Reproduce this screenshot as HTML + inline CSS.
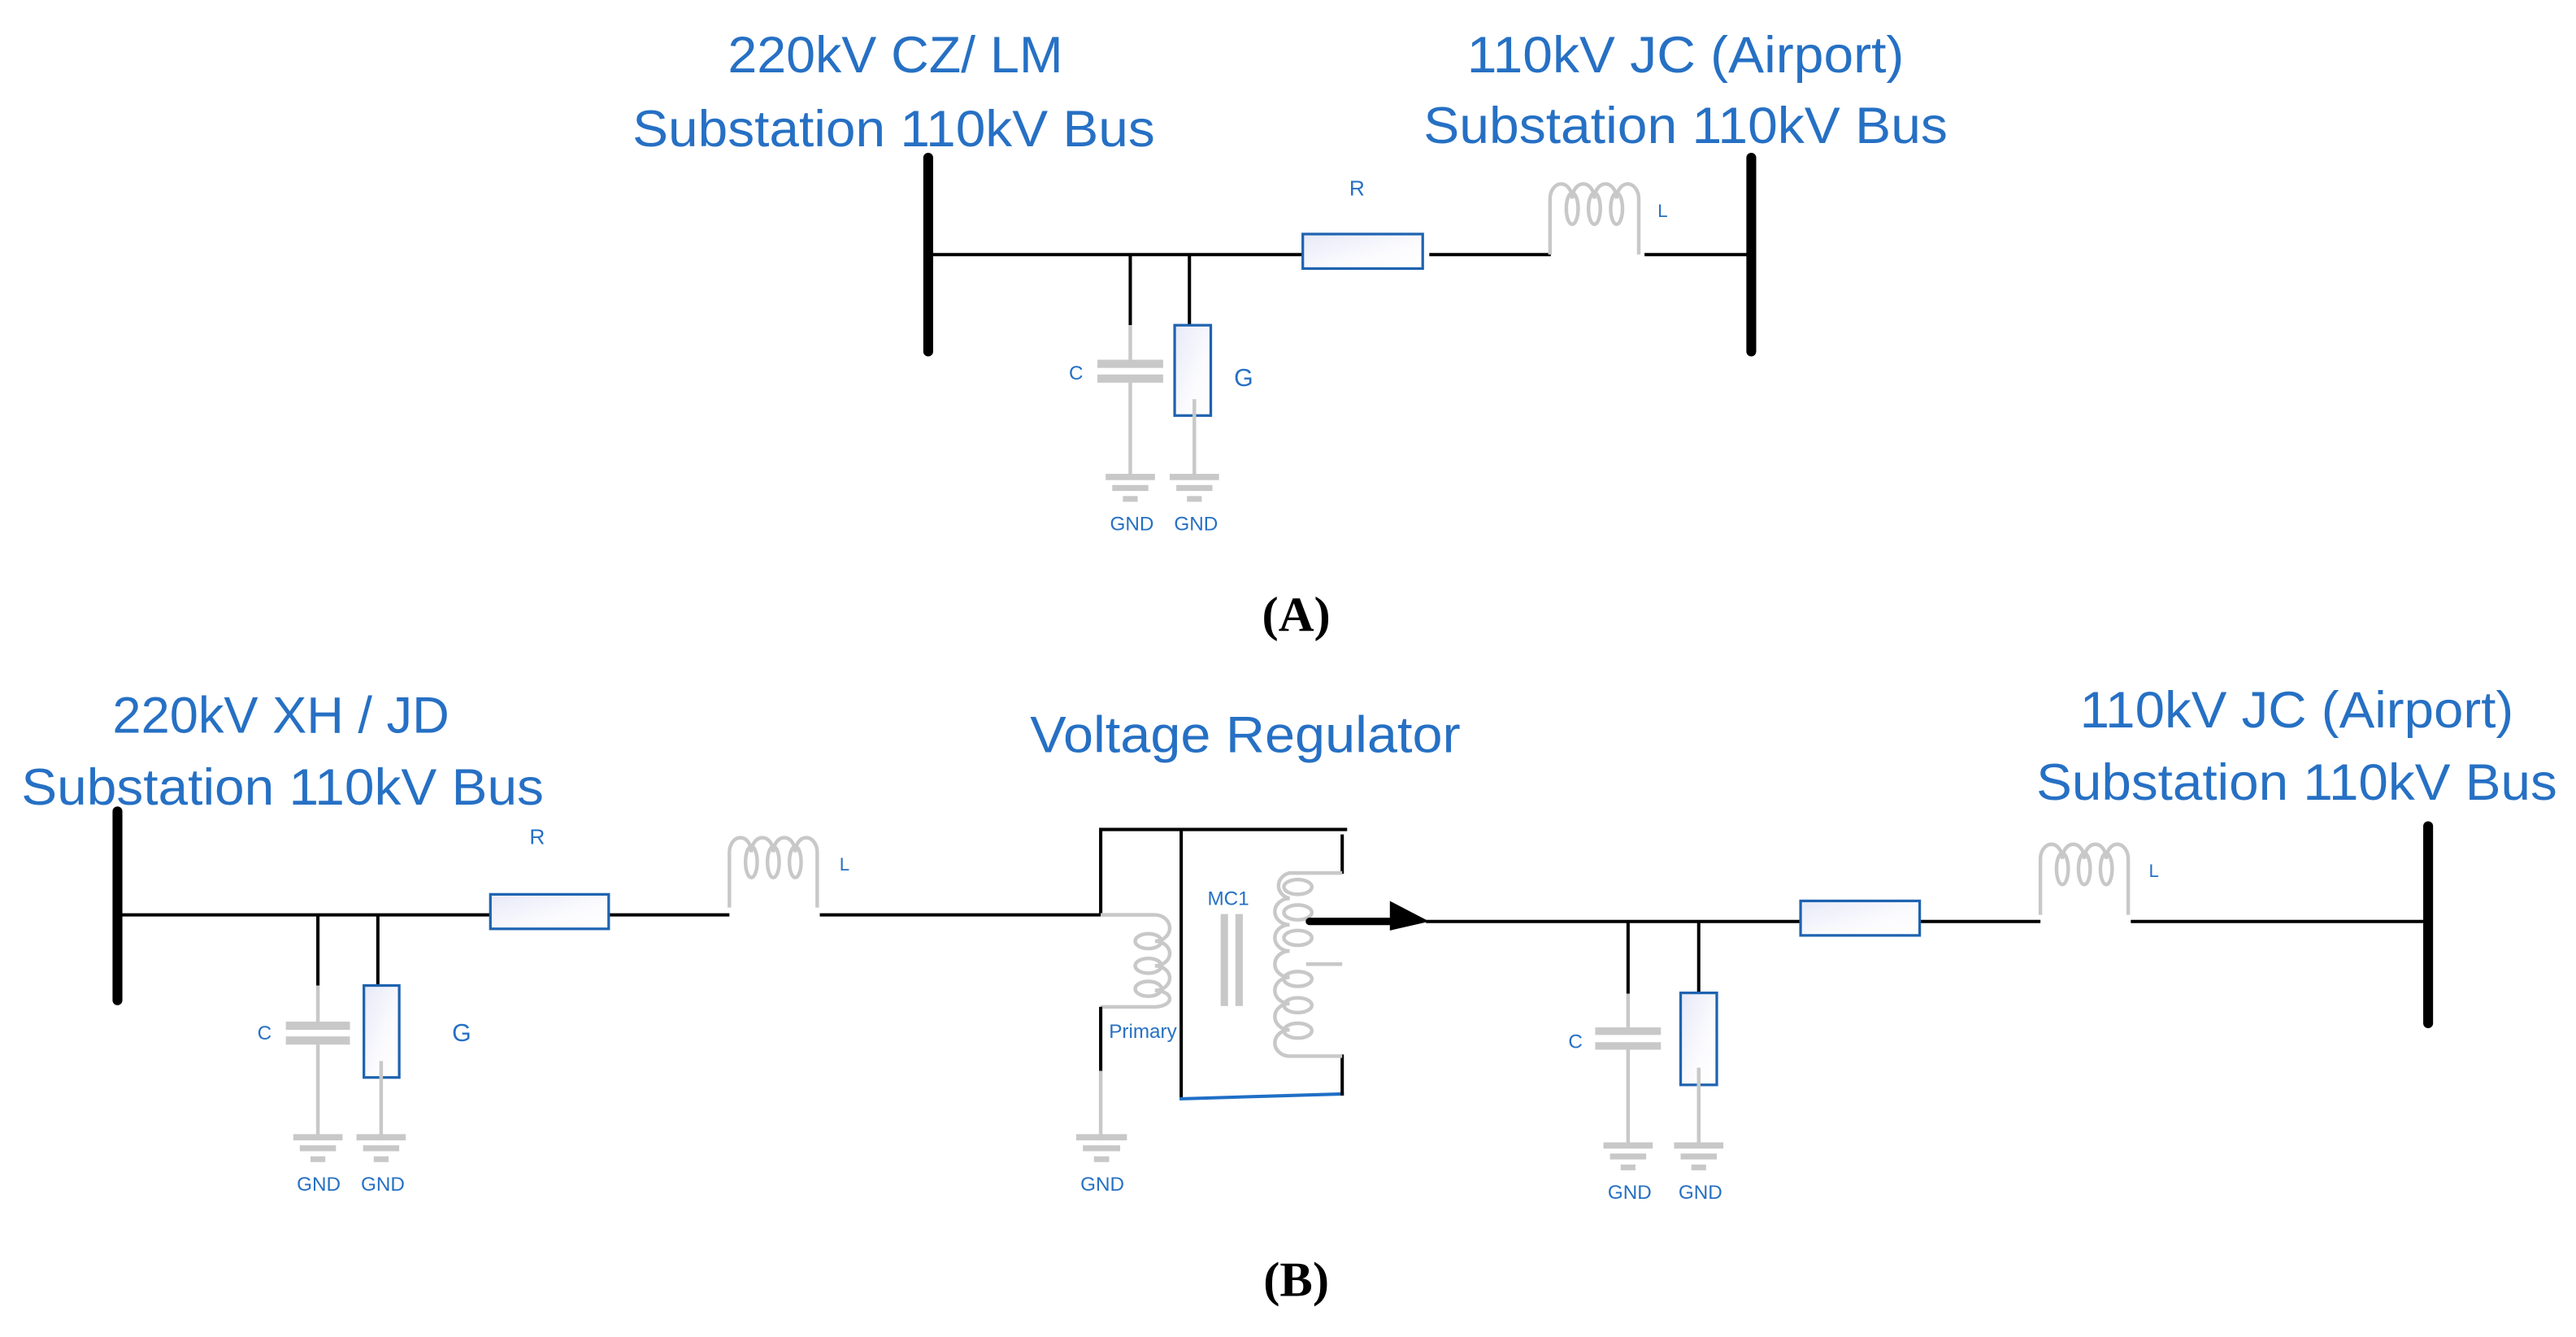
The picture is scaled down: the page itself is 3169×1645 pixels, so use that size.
<!DOCTYPE html>
<html><head><meta charset="utf-8"><style>
html,body{margin:0;padding:0;background:#fff;}
svg{display:block;}
.t{font-family:"Liberation Sans",sans-serif;fill:#2670c4;}
.w{stroke:#000;stroke-width:2;fill:none;}
.g{stroke:#c8c8c8;stroke-width:2.2;fill:none;}
.res{stroke:#1e63b0;stroke-width:1.6;fill:url(#rg);}
.bus{stroke:#000;stroke-width:6;stroke-linecap:round;}
.gp{fill:#c8c8c8;}
</style></head><body>
<svg width="3169" height="1645" viewBox="0 0 1568 814" preserveAspectRatio="none" xmlns="http://www.w3.org/2000/svg">
<defs>
<linearGradient id="rg" x1="0" y1="0" x2="1" y2="1"><stop offset="0" stop-color="#e6e9f7"/><stop offset="0.6" stop-color="#fbfbfe"/><stop offset="1" stop-color="#ffffff"/></linearGradient>
<g id="ind">
<path class="g" d="M1.5,44 V10 A6.75,9 0 0 1 15,10 A6.75,9 0 0 1 28.5,10 A6.75,9 0 0 1 42,10 A6.75,9 0 0 1 55.5,10 V44"/>
<ellipse class="g" cx="15" cy="16" rx="3.6" ry="9.5"/>
<ellipse class="g" cx="28.5" cy="16" rx="3.6" ry="9.5"/>
<ellipse class="g" cx="42" cy="16" rx="3.6" ry="9.5"/>
</g>
<g id="gnd">
<rect class="gp" x="-15" y="0" width="30" height="3.8"/>
<rect class="gp" x="-11" y="6.8" width="22" height="3.6"/>
<rect class="gp" x="-4.5" y="13.5" width="9" height="3.5"/>
</g>
</defs>

<!-- ===== PART A ===== -->
<text class="t" x="545" y="44" font-size="31" text-anchor="middle" textLength="204" lengthAdjust="spacingAndGlyphs">220kV CZ/ LM</text>
<text class="t" x="544" y="89" font-size="31" text-anchor="middle" textLength="318" lengthAdjust="spacingAndGlyphs">Substation 110kV Bus</text>
<text class="t" x="1026" y="44" font-size="31" text-anchor="middle" textLength="266" lengthAdjust="spacingAndGlyphs">110kV JC (Airport)</text>
<text class="t" x="1026" y="87" font-size="31" text-anchor="middle" textLength="319" lengthAdjust="spacingAndGlyphs">Substation 110kV Bus</text>

<line class="bus" x1="565" y1="96" x2="565" y2="214"/>
<line class="bus" x1="1066" y1="96" x2="1066" y2="214"/>
<line class="w" x1="565" y1="155" x2="796" y2="155"/>
<line class="w" x1="870" y1="155" x2="944" y2="155"/>
<line class="w" x1="1001" y1="155" x2="1066" y2="155"/>
<rect class="res" x="793" y="142.5" width="73" height="21"/>
<use href="#ind" x="942" y="111"/>
<text class="t" x="826" y="119" font-size="13" text-anchor="middle">R</text>
<text class="t" x="1009" y="132" font-size="11">L</text>
<!-- C branch -->
<line class="w" x1="688" y1="155" x2="688" y2="198"/>
<line class="g" x1="688" y1="198" x2="688" y2="219"/>
<rect class="gp" x="668" y="219" width="40" height="5"/>
<rect class="gp" x="668" y="228" width="40" height="5"/>
<line class="g" x1="688" y1="233" x2="688" y2="289"/>
<use href="#gnd" x="688" y="288.5"/>
<!-- G branch -->
<line class="w" x1="724" y1="155" x2="724" y2="198"/>
<rect class="res" x="715" y="198" width="22" height="55"/>
<line class="g" x1="727" y1="243" x2="727" y2="289"/>
<use href="#gnd" x="727" y="288.5"/>
<text class="t" x="655" y="231" font-size="12" text-anchor="middle">C</text>
<text class="t" x="757" y="235" font-size="15" text-anchor="middle">G</text>
<text class="t" x="689" y="323" font-size="12" text-anchor="middle">GND</text>
<text class="t" x="728" y="323" font-size="12" text-anchor="middle">GND</text>

<text x="789" y="384" font-family="'Liberation Serif',serif" font-weight="bold" font-size="30" text-anchor="middle" fill="#000">(A)</text>

<!-- ===== PART B ===== -->
<text class="t" x="171" y="446" font-size="31" text-anchor="middle" textLength="205" lengthAdjust="spacingAndGlyphs">220kV XH / JD</text>
<text class="t" x="172" y="490" font-size="31" text-anchor="middle" textLength="318" lengthAdjust="spacingAndGlyphs">Substation 110kV Bus</text>
<text class="t" x="758" y="458" font-size="31" text-anchor="middle" textLength="262" lengthAdjust="spacingAndGlyphs">Voltage Regulator</text>
<text class="t" x="1398" y="443" font-size="31" text-anchor="middle" textLength="264" lengthAdjust="spacingAndGlyphs">110kV JC (Airport)</text>
<text class="t" x="1398" y="487" font-size="31" text-anchor="middle" textLength="317" lengthAdjust="spacingAndGlyphs">Substation 110kV Bus</text>

<!-- left section -->
<line class="bus" x1="71.5" y1="494" x2="71.5" y2="609"/>
<line class="w" x1="71.5" y1="557" x2="299" y2="557"/>
<line class="w" x1="370" y1="557" x2="444" y2="557"/>
<line class="w" x1="499" y1="557" x2="670" y2="557"/>
<rect class="res" x="298.5" y="544.5" width="72" height="21"/>
<use href="#ind" transform="translate(442.5,509) scale(0.99,0.99)"/>
<text class="t" x="327" y="514" font-size="13" text-anchor="middle">R</text>
<text class="t" x="511" y="530" font-size="11">L</text>
<line class="w" x1="193.5" y1="557" x2="193.5" y2="600"/>
<line class="g" x1="193.5" y1="600" x2="193.5" y2="624"/>
<rect class="gp" x="174" y="622" width="39" height="5"/>
<rect class="gp" x="174" y="631" width="39" height="5"/>
<line class="g" x1="193.5" y1="636" x2="193.5" y2="691"/>
<use href="#gnd" x="193.5" y="690.5"/>
<line class="w" x1="230" y1="557" x2="230" y2="600"/>
<rect class="res" x="221.5" y="600" width="21.5" height="56"/>
<line class="g" x1="232" y1="646" x2="232" y2="691"/>
<use href="#gnd" x="232" y="690.5"/>
<text class="t" x="161" y="633" font-size="12" text-anchor="middle">C</text>
<text class="t" x="281" y="634" font-size="15" text-anchor="middle">G</text>
<text class="t" x="194" y="725" font-size="12" text-anchor="middle">GND</text>
<text class="t" x="233" y="725" font-size="12" text-anchor="middle">GND</text>

<!-- voltage regulator -->
<polyline class="w" points="670,557 670,505 820,505"/>
<line class="w" x1="719" y1="505" x2="719" y2="669"/>
<line stroke="#1f6fc6" stroke-width="2" x1="718" y1="669" x2="818" y2="666"/>
<line class="w" x1="817" y1="508" x2="817" y2="532"/>
<line class="w" x1="817" y1="642" x2="817" y2="667"/>
<!-- primary coil -->
<path class="g" d="M670,557 H703 A9,8 0 0 1 703,573 A9,7.5 0 0 1 703,588 A9,7.5 0 0 1 703,603 A9,5 0 0 1 703,613 H670"/>
<ellipse class="g" cx="699" cy="573" rx="8" ry="4.5"/>
<ellipse class="g" cx="699" cy="588" rx="8" ry="4.5"/>
<ellipse class="g" cx="699" cy="602" rx="8" ry="4.5"/>
<line class="w" x1="670" y1="613" x2="670" y2="652"/>
<line class="g" x1="670" y1="652" x2="670" y2="691"/>
<use href="#gnd" transform="translate(670.5,690.5) scale(1.03,1)"/>
<text class="t" x="675" y="632" font-size="12">Primary</text>
<text class="t" x="671" y="725" font-size="12" text-anchor="middle">GND</text>
<!-- core -->
<rect class="gp" x="743" y="556.5" width="4.5" height="56"/>
<rect class="gp" x="752" y="556.5" width="4.5" height="56"/>
<text class="t" x="735" y="551" font-size="12">MC1</text>
<!-- secondary coil -->
<path class="g" d="M817,531.5 H785 A9,8 0 0 0 785,547 A9,8 0 0 0 785,563 A9,8 0 0 0 785,579 A9,8 0 0 0 785,595 A9,8 0 0 0 785,611 A9,8 0 0 0 785,627 A9,8 0 0 0 785,643 H817"/>
<ellipse class="g" cx="790" cy="540" rx="8.5" ry="4.5"/>
<ellipse class="g" cx="790" cy="555.5" rx="8.5" ry="4.5"/>
<ellipse class="g" cx="790" cy="571" rx="8.5" ry="4.5"/>
<ellipse class="g" cx="790" cy="596" rx="8.5" ry="4.5"/>
<ellipse class="g" cx="790" cy="612" rx="8.5" ry="4.5"/>
<ellipse class="g" cx="790" cy="627.5" rx="8.5" ry="4.5"/>
<line class="g" x1="795" y1="587" x2="817" y2="587"/>
<!-- arrow -->
<line stroke="#000" stroke-width="4.5" stroke-linecap="round" x1="797" y1="561" x2="848" y2="561"/>
<polygon points="846,548.5 870,561 846,566.5" fill="#000"/>

<!-- right section -->
<line class="w" x1="868" y1="561" x2="1096" y2="561"/>
<line class="w" x1="1168" y1="561" x2="1242" y2="561"/>
<line class="w" x1="1297" y1="561" x2="1478" y2="561"/>
<line class="bus" x1="1478" y1="503" x2="1478" y2="623"/>
<rect class="res" x="1096" y="548.5" width="72.5" height="21"/>
<use href="#ind" transform="translate(1240.5,513) scale(0.99,1)"/>
<text class="t" x="1308" y="534" font-size="11">L</text>
<line class="w" x1="991" y1="561" x2="991" y2="605"/>
<line class="g" x1="991" y1="605" x2="991" y2="626"/>
<rect class="gp" x="971" y="625.5" width="40" height="4.6"/>
<rect class="gp" x="971" y="634.5" width="40" height="4.6"/>
<line class="g" x1="991" y1="639" x2="991" y2="696"/>
<use href="#gnd" x="991" y="695.5"/>
<line class="w" x1="1034" y1="561" x2="1034" y2="604.5"/>
<rect class="res" x="1023" y="604.5" width="22" height="56"/>
<line class="g" x1="1034" y1="650" x2="1034" y2="696"/>
<use href="#gnd" x="1034" y="695.5"/>
<text class="t" x="959" y="638" font-size="12" text-anchor="middle">C</text>
<text class="t" x="992" y="730" font-size="12" text-anchor="middle">GND</text>
<text class="t" x="1035" y="730" font-size="12" text-anchor="middle">GND</text>

<text x="789" y="789" font-family="'Liberation Serif',serif" font-weight="bold" font-size="30" text-anchor="middle" fill="#000">(B)</text>
</svg>
</body></html>
